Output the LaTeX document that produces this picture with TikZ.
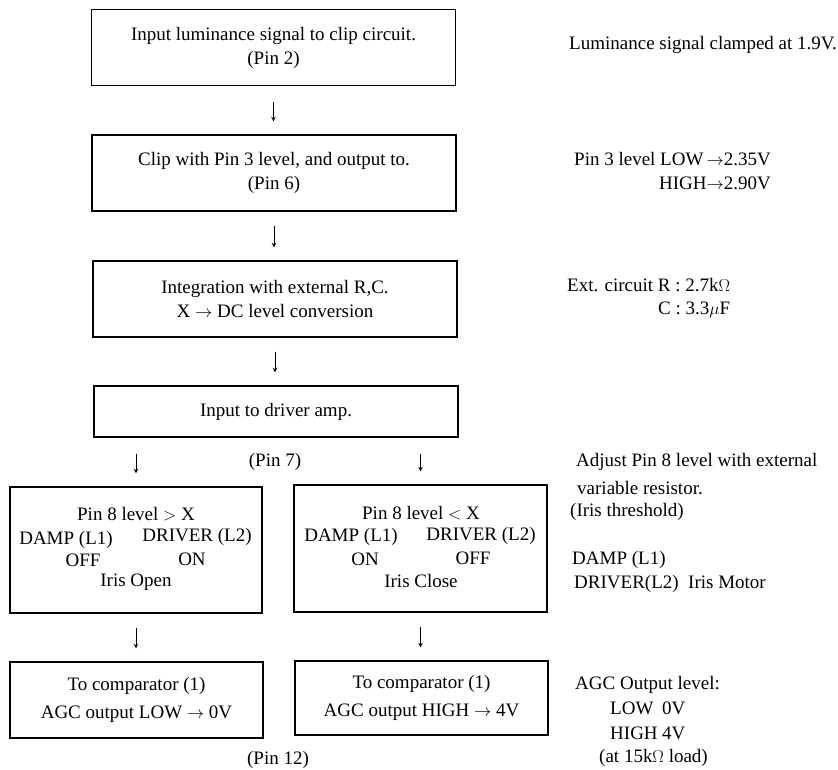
\documentclass[tikz,border=0pt]{standalone}
\usepackage{fontspec}
\setmainfont{Liberation Serif}
\begin{document}
\begin{tikzpicture}[x=1pt,y=-1pt,
    every node/.style={font=\fontsize{19}{24}\selectfont},
    box/.style={draw,line width=1.4pt,align=center,inner sep=0pt},
    flow/.style={->,>=stealth,line width=1pt,shorten <=14pt,shorten >=13pt},
    note/.style={anchor=west,inner sep=0pt}]
  \useasboundingbox (0,0) rectangle (838,769);
  % main column
  \node[box,minimum width=364pt,minimum height=76pt] (clip) at (273.5,47.5) {Input luminance signal to clip circuit.\\(Pin 2)};
  \node[box,minimum width=364pt,minimum height=76pt] (level) at (274,173) {Clip with Pin 3 level, and output to.\\(Pin 6)};
  \node[box,minimum width=364pt,minimum height=76pt] (integ) at (275,299) {Integration with external R,C.\\X $\rightarrow$ DC level conversion};
  \node[box,minimum width=364pt,minimum height=51pt] (amp) at (276,411.5) {Input to driver amp.};
  \draw[flow,shorten <=16pt] (clip.south) -- (clip.south |- level.north);
  \draw[flow] (level.south) -- (level.south |- integ.north);
  \draw[flow] (integ.south) -- (integ.south |- amp.north);
  \node (pin7) at (275,462) {(Pin 7)};
  % two branches
  \node[box,minimum width=252pt,minimum height=126pt] (open) at (136,550) {};
  \node[box,minimum width=253pt,minimum height=127pt] (close) at (420.5,548.5) {};
  \draw[flow,shorten <=16pt] (amp.south -| open) -- (open.north);
  \draw[flow,shorten <=16pt] (amp.south -| close) -- (close.north);
  \node (opencond) at (136,514) {Pin 8 level $>$ X};
  \node (opendamp) at (66,540) {DAMP (L1)};
  \node (opendrv) at (197,537) {DRIVER (L2)};
  \node (opendampst) at (83,560) {OFF};
  \node (opendrvst) at (192,559) {ON};
  \node (openiris) at (136,582) {Iris Open};
  \node (closecond) at (421,513) {Pin 8 level $<$ X};
  \node (closedamp) at (351,537) {DAMP (L1)};
  \node (closedrv) at (481,536) {DRIVER (L2)};
  \node (closedampst) at (365,559) {ON};
  \node (closedrvst) at (473,558) {OFF};
  \node (closeiris) at (421,581) {Iris Close};
  \node[box,minimum width=253pt,minimum height=76pt] (low) at (136.5,700) {To comparator (1)\\[4pt]AGC output LOW $\rightarrow$ 0V};
  \node[box,minimum width=253pt,minimum height=74pt] (high) at (421.5,698) {To comparator (1)\\[4pt]AGC output HIGH $\rightarrow$ 4V};
  \draw[flow] (open.south) -- (open.south |- low.north);
  \draw[flow] (close.south) -- (close.south |- high.north);
  \node (pin12) at (278,760) {(Pin 12)};
  % notes on the right
  \node[note] (clamp) at (569,45) {Luminance signal clamped at 1.9V.};
  \node[note] (pin3low) at (574,159) {Pin 3 level LOW\,$\rightarrow$2.35V};
  \node[anchor=east,inner sep=0pt] (pin3high) at (pin3low.east |- 0,183) {HIGH$\rightarrow$2.90V};
  \node[note] (extr) at (567,285) {Ext. circuit R : 2.7k$\Omega$};
  \node[anchor=east,inner sep=0pt] (extc) at (extr.east |- 0,310) {C : 3.3$\mu$F};
  \node[note] (adjust) at (576,462) {Adjust Pin 8 level with external};
  \node[note] (adjust2) at (577,488) {variable resistor.};
  \node[note] (thresh) at (570,512) {(Iris threshold)};
  \node[note] (damp) at (572,560) {DAMP (L1)};
  \node[note] (motor) at (574,584) {DRIVER(L2)\ \ Iris Motor};
  \node[note] (agc) at (575,685) {AGC Output level:};
  \node[note] (agclow) at (610,708) {LOW};
  \node[note] (agclowv) at (662,708) {0V};
  \node[note] (agchigh) at (610,733) {HIGH};
  \node[note] (agchighv) at (662,733) {4V};
  \node[note] (load) at (599,758) {(at 15k$\Omega$ load)};
\end{tikzpicture}
\end{document}
